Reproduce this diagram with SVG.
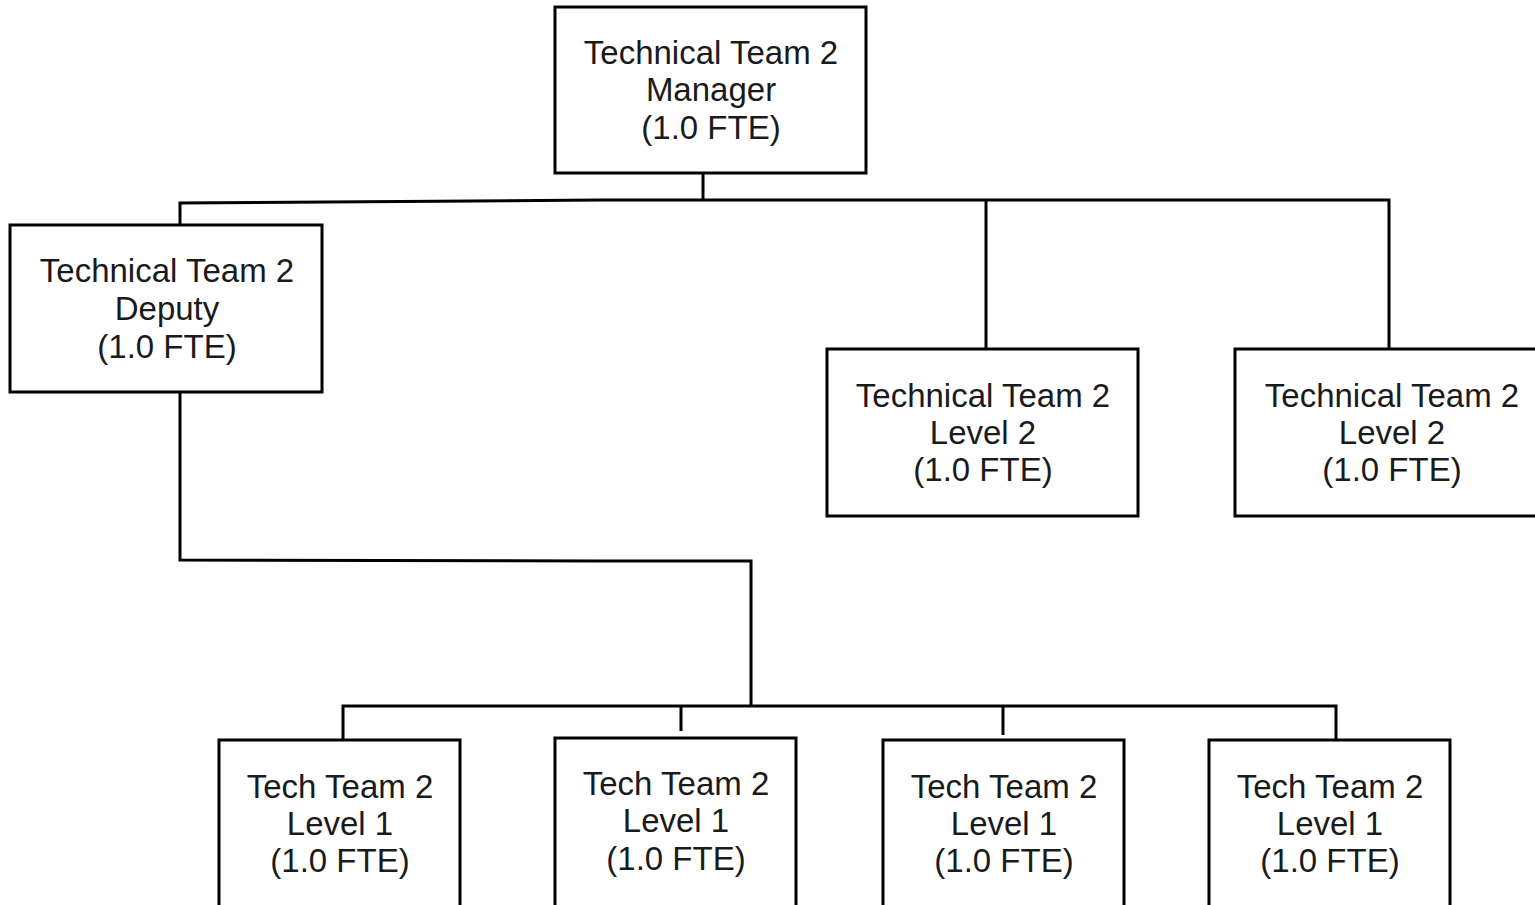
<svg xmlns="http://www.w3.org/2000/svg" width="1535" height="905" viewBox="0 0 1535 905">
<style>
.box{fill:#fff;stroke:#000;stroke-width:3}
.ln{fill:none;stroke:#000;stroke-width:3}
text{font-family:"Liberation Sans",Arial,sans-serif;font-size:33px;fill:#1a1a1a;text-anchor:middle}
</style>
<rect width="1535" height="905" fill="#fff"/>
<g id="connectors">
<path class="ln" d="M703,173 V200"/>
<path class="ln" d="M180,225 V203 L600,200 H1389 V349"/>
<path class="ln" d="M986,200 V349"/>
<path class="ln" d="M180,392 V560 L600,561 H751 V706"/>
<path class="ln" d="M343,740 V706 H1336 V740"/>
<path class="ln" d="M681,706 V731"/>
<path class="ln" d="M1003,706 V735"/>
</g>
<g id="manager">
<rect class="box" x="555" y="7" width="311" height="166"/>
<text x="711" y="64">Technical Team 2</text>
<text x="711" y="101">Manager</text>
<text x="711" y="139">(1.0 FTE)</text>
</g>
<g id="deputy">
<rect class="box" x="10" y="225" width="312" height="167"/>
<text x="167" y="282">Technical Team 2</text>
<text x="167" y="320">Deputy</text>
<text x="167" y="358">(1.0 FTE)</text>
</g>
<g id="level2a">
<rect class="box" x="827" y="349" width="311" height="167"/>
<text x="983" y="407">Technical Team 2</text>
<text x="983" y="444">Level 2</text>
<text x="983" y="481">(1.0 FTE)</text>
</g>
<g id="level2b">
<rect class="box" x="1235" y="349" width="311" height="167"/>
<text x="1392" y="407">Technical Team 2</text>
<text x="1392" y="444">Level 2</text>
<text x="1392" y="481">(1.0 FTE)</text>
</g>
<g id="level1a">
<rect class="box" x="219" y="740" width="241" height="180"/>
<text x="340" y="798">Tech Team 2</text>
<text x="340" y="835">Level 1</text>
<text x="340" y="872">(1.0 FTE)</text>
</g>
<g id="level1b">
<rect class="box" x="555" y="738" width="241" height="180"/>
<text x="676" y="795">Tech Team 2</text>
<text x="676" y="832">Level 1</text>
<text x="676" y="870">(1.0 FTE)</text>
</g>
<g id="level1c">
<rect class="box" x="883" y="740" width="241" height="180"/>
<text x="1004" y="798">Tech Team 2</text>
<text x="1004" y="835">Level 1</text>
<text x="1004" y="872">(1.0 FTE)</text>
</g>
<g id="level1d">
<rect class="box" x="1209" y="740" width="241" height="180"/>
<text x="1330" y="798">Tech Team 2</text>
<text x="1330" y="835">Level 1</text>
<text x="1330" y="872">(1.0 FTE)</text>
</g>
</svg>
